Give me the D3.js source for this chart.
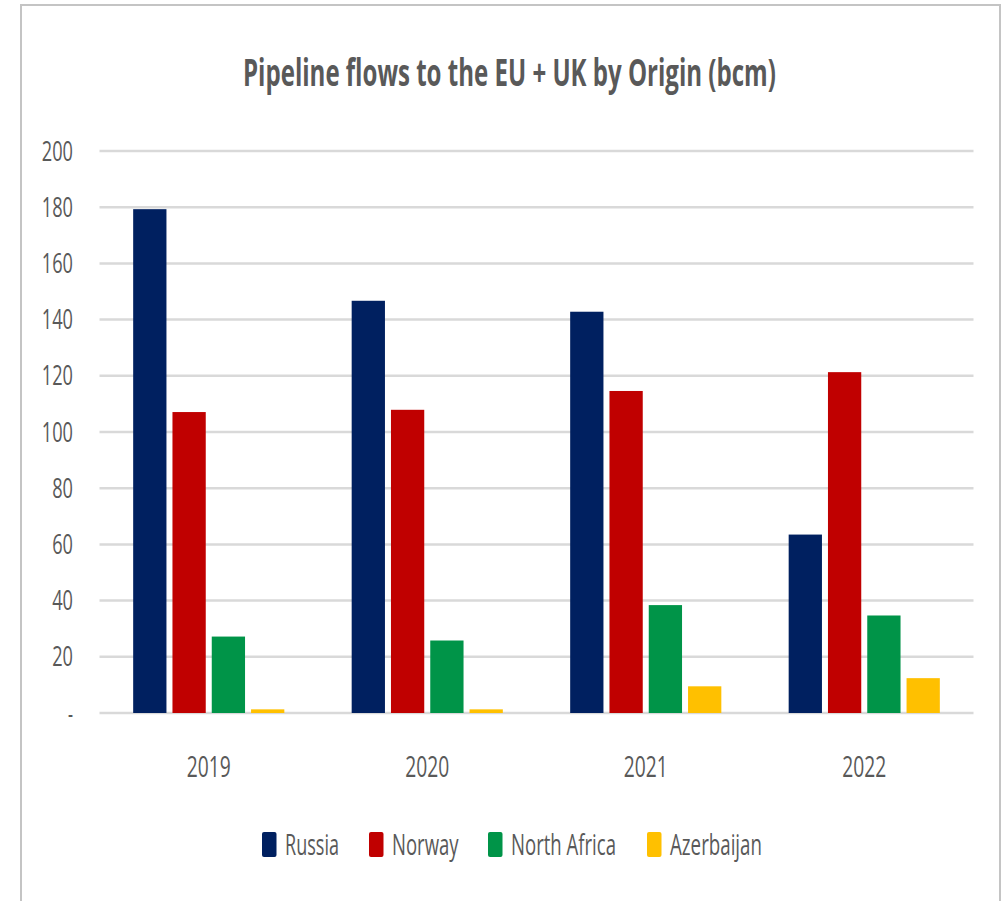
<!DOCTYPE html>
<html>
<head>
<meta charset="utf-8">
<script src="https://cdn.jsdelivr.net/npm/d3@7"></script>
<style>
  html, body { margin: 0; padding: 0; background: #fff; }
  svg { display: block; }
  text { font-family: "Open Sans", "Liberation Sans", sans-serif; fill: #595959; }
</style>
</head>
<body>
<svg id="chart" width="1005" height="901"></svg>
<script>
// Pipeline gas flows into the EU + UK, billion cubic metres
const years = ["2019", "2020", "2021", "2022"];
const seriesNames = ["Russia", "Norway", "North Africa", "Azerbaijan"];
const russia = [179.3, 146.7, 142.8, 63.5];
const norway = [107.1, 107.9, 114.6, 121.3];
const northAfrica = [27.2, 25.8, 38.4, 34.7];
const azerbaijan = [1.3, 1.3, 9.5, 12.4];
const yTickValues = [0, 20, 40, 60, 80, 100, 120, 140, 160, 180, 200];
const yTickLabels = ["-", "20", "40", "60", "80", "100", "120", "140", "160", "180", "200"];
const colors = ["#002060", "#C00000", "#009448", "#FFC000"];
const titleText = "Pipeline flows to the EU + UK by Origin (bcm)";

const seriesValues = [russia, norway, northAfrica, azerbaijan];
const rows = years.map((y, i) => ({
  year: y,
  values: seriesNames.map((s, j) => ({ series: s, value: seriesValues[j][i], color: colors[j] }))
}));

const svg = d3.select("#chart");

// chart frame
svg.append("path")
  .attr("d", "M21,910 L21,5 L1000,5 L1000,910")
  .attr("fill", "none")
  .attr("stroke", "#c4c4c4")
  .attr("stroke-width", 2);

const plotLeft = 99.5, plotRight = 973.5;
const x0 = d3.scaleBand().domain(years).range([plotLeft, plotRight]).padding(0);
const x1 = d3.scaleBand().domain(seriesNames).range([0, x0.bandwidth()])
  .paddingInner(0.153).paddingOuter(0.857);
const y = d3.scaleLinear().domain([0, 200]).range([713, 151]);

// Condensed labels: each text is drawn at the origin, measured, then squeezed
// horizontally to the given width and placed with its left edge at left(d).
function condensed(sel, leftFn, baselineFn, widthFn) {
  sel.attr("x", 0).attr("y", 0).each(function (d, i) {
    const natural = this.getComputedTextLength() || 1;
    const w = widthFn(d, i);
    const sx = w / natural;
    d3.select(this).attr("transform",
      `translate(${leftFn(d, i, w)},${baselineFn(d, i)}) scale(${sx},1)`);
  });
}

// title
svg.append("text")
  .attr("font-size", 38)
  .attr("font-weight", 700)
  .text(titleText)
  .call(condensed, (d, i, w) => 509.5 - w / 2, () => 86, () => 533);

// gridlines
svg.append("g").selectAll("line")
  .data(yTickValues)
  .join("line")
  .attr("x1", plotLeft).attr("x2", plotRight)
  .attr("y1", d => y(d)).attr("y2", d => y(d))
  .attr("stroke", "#d9d9d9")
  .attr("stroke-width", 2.5);

// y tick labels, right-aligned
const tickWidth = (d, i) => yTickLabels[i] === "-" ? 5 : yTickLabels[i].length * 10.4;
svg.append("g").selectAll("text")
  .data(yTickValues)
  .join("text")
  .attr("font-size", 27)
  .text((d, i) => yTickLabels[i])
  .call(condensed, (d, i, w) => 73 - w, d => y(d) + 9.5, tickWidth);

// bars
const groups = svg.append("g").selectAll("g")
  .data(rows)
  .join("g")
  .attr("transform", d => `translate(${x0(d.year)},0)`);

groups.selectAll("rect")
  .data(d => d.values)
  .join("rect")
  .attr("x", d => x1(d.series))
  .attr("width", x1.bandwidth())
  .attr("y", d => y(d.value))
  .attr("height", d => y(0) - y(d.value))
  .attr("fill", d => d.color);

// x labels, centred under each group
svg.append("g").selectAll("text")
  .data(years)
  .join("text")
  .attr("font-size", 30)
  .text(d => d)
  .call(condensed, (d, i, w) => x0(d) + x0.bandwidth() / 2 - w / 2, () => 777, () => 44);

// legend
const legendSwatchX = [262, 369, 488, 647];
const legendTextWidth = [54, 66.6, 105, 92];
const legend = svg.append("g").selectAll("g")
  .data(seriesNames)
  .join("g");
legend.append("rect")
  .attr("x", (d, i) => legendSwatchX[i])
  .attr("y", 832)
  .attr("width", 14.5)
  .attr("height", 25)
  .attr("rx", 2)
  .attr("fill", (d, i) => colors[i]);
legend.append("text")
  .attr("font-size", 30)
  .text(d => d)
  .call(condensed, (d, i) => legendSwatchX[i] + 23, () => 855, (d, i) => legendTextWidth[i]);
</script>
</body>
</html>
